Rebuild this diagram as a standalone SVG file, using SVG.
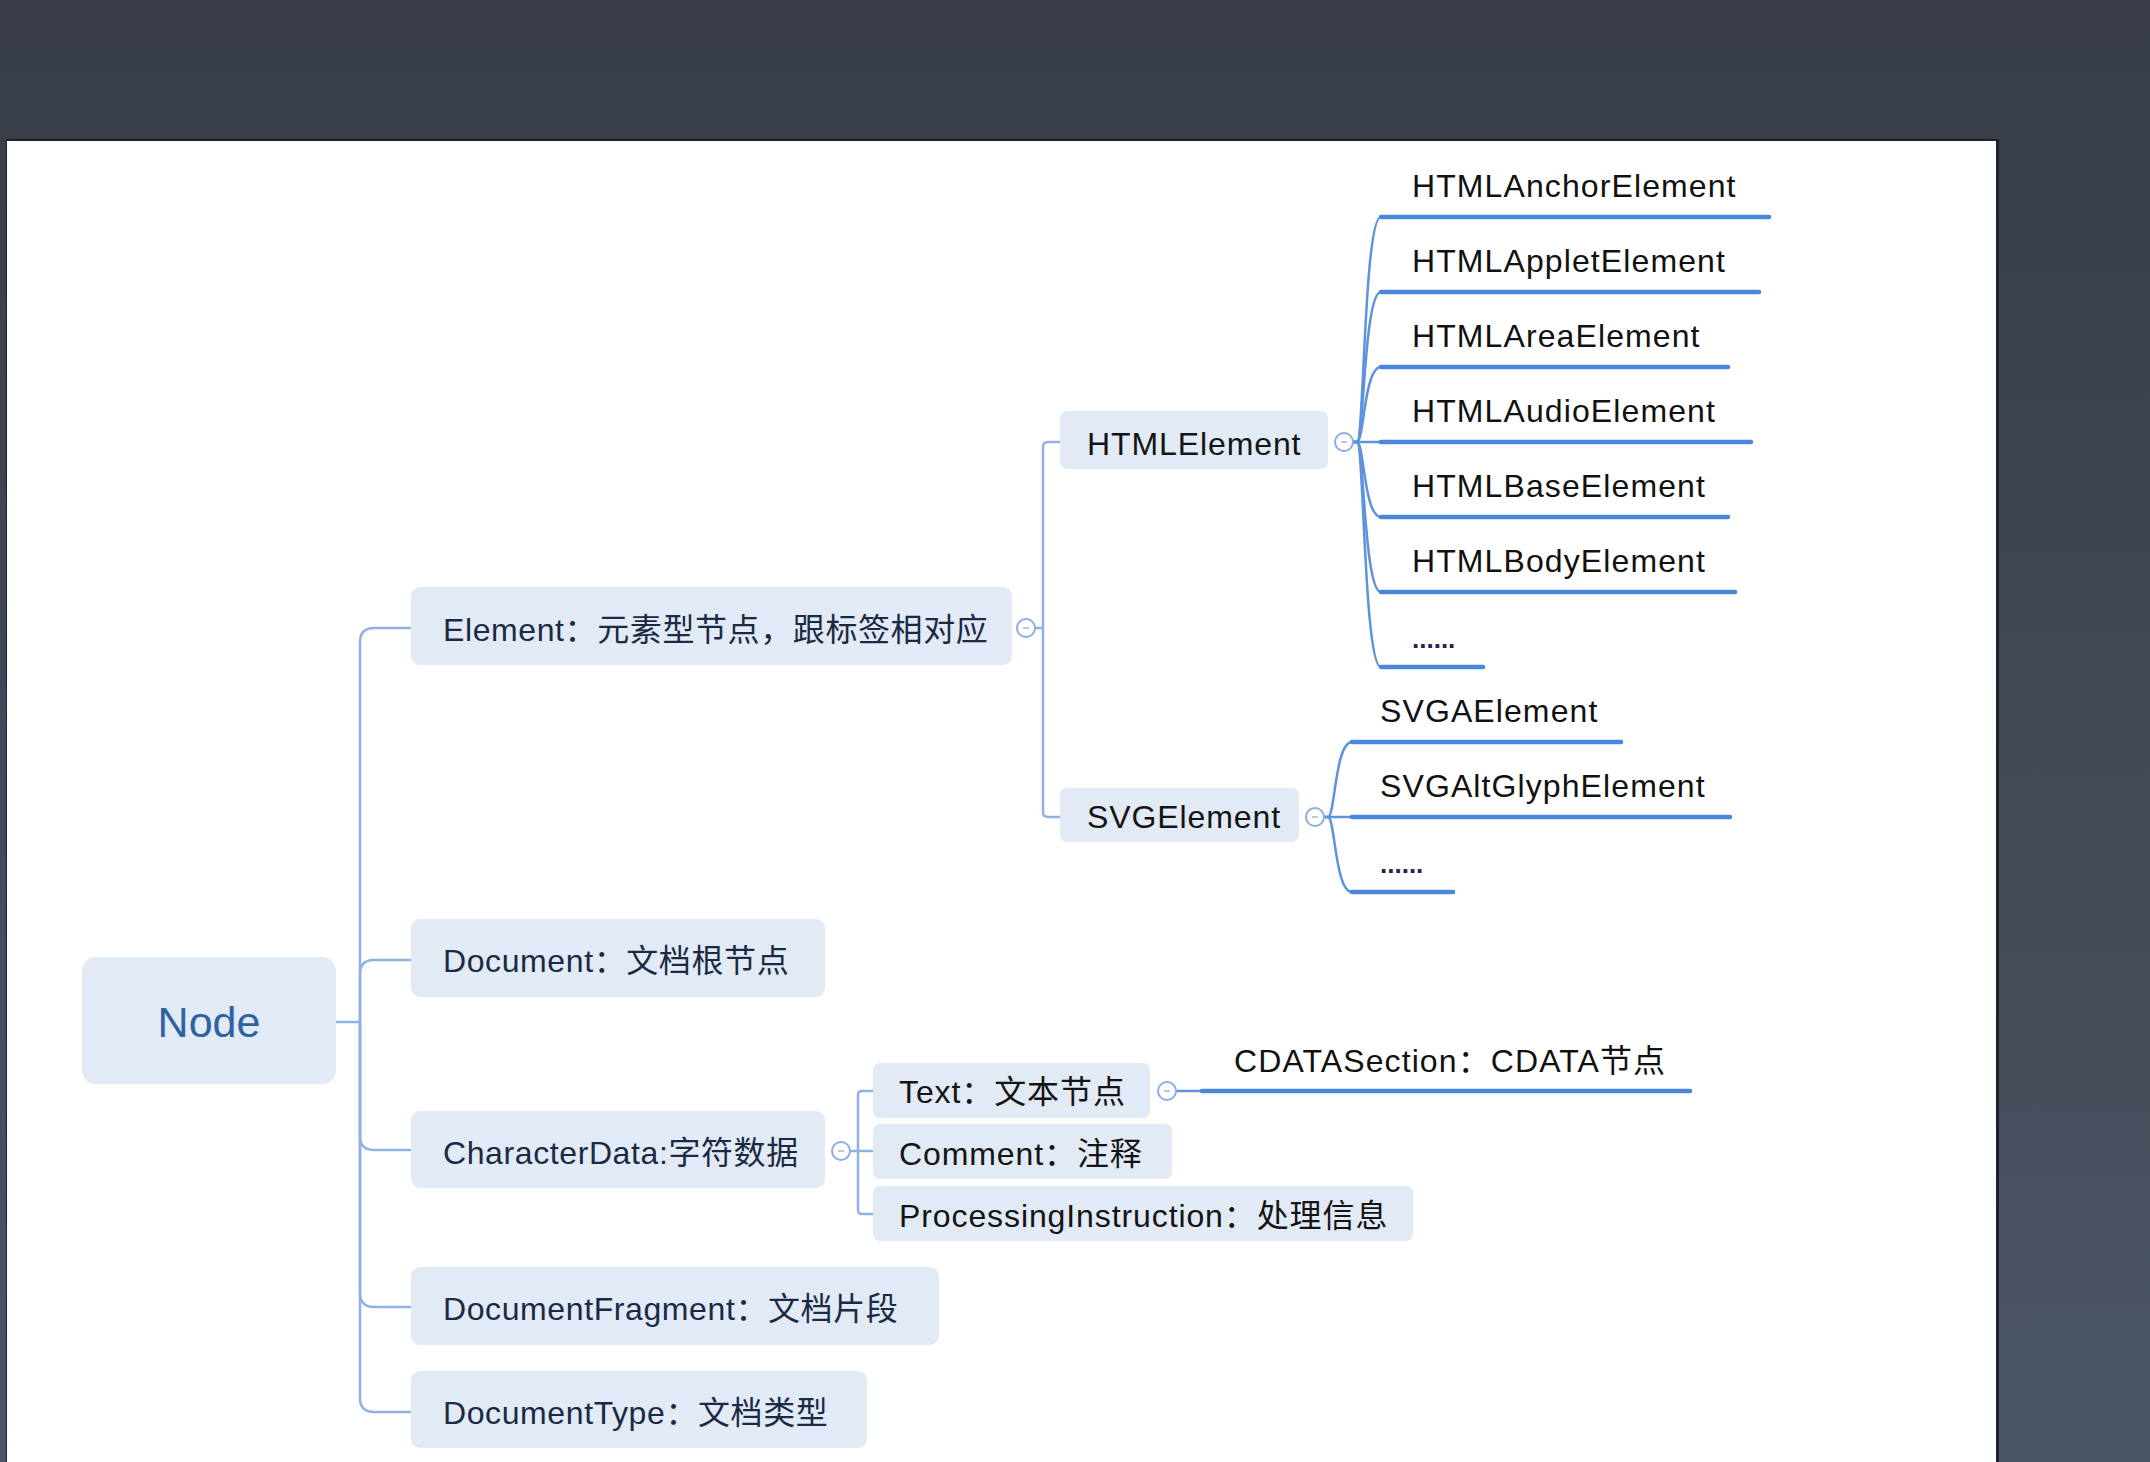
<svg xmlns="http://www.w3.org/2000/svg" width="2150" height="1462" viewBox="0 0 2150 1462">
  <defs>
    <linearGradient id="bg" x1="0" y1="0" x2="0" y2="1">
      <stop offset="0" stop-color="#373c47"/>
      <stop offset="1" stop-color="#4c5564"/>
    </linearGradient>
    <style>
      .box { fill: #e2eaf6; }
      .t1 { font-family: "Liberation Sans", "Noto Sans CJK SC", sans-serif; font-size: 32px; fill: #1b2a44; letter-spacing: 0.6px; }
      .t2 { font-family: "Liberation Sans", "Noto Sans CJK SC", sans-serif; font-size: 32px; fill: #141414; letter-spacing: 0.9px; }
      .leaf { font-family: "Liberation Sans", "Noto Sans CJK SC", sans-serif; font-size: 32px; fill: #111111; letter-spacing: 1.1px; }
      .dots { font-family: "Liberation Sans", sans-serif; font-size: 26px; font-weight: bold; fill: #22224a; }
      .conn { fill: none; stroke: #8fb1e3; stroke-width: 2.5; }
      .curve { fill: none; stroke: #5d93dd; stroke-width: 2.5; }
      .uline { fill: none; stroke: #4a87db; stroke-width: 4.5; stroke-linecap: round; }
      .knob { fill: #ffffff; stroke: #8aaee6; stroke-width: 2; }
      .knobdash { stroke: #a3b6d0; stroke-width: 1.5; }
    </style>
  </defs>

  <rect x="0" y="0" width="2150" height="1462" fill="url(#bg)"/>
  <rect x="6" y="139" width="1993" height="1323" fill="#1c212b"/>
  <rect x="7" y="141" width="1989" height="1321" fill="#ffffff"/>

  <g id="connectors">
    <!-- Node to level 1 -->
    <path class="conn" d="M 336 1022 H 360"/>
    <path class="conn" d="M 360 1022 V 642 Q 360 628 374 628 H 411"/>
    <path class="conn" d="M 360 1022 V 974 Q 360 960 374 960 H 411"/>
    <path class="conn" d="M 360 1022 V 1136 Q 360 1150 374 1150 H 411"/>
    <path class="conn" d="M 360 1022 V 1293 Q 360 1307 374 1307 H 411"/>
    <path class="conn" d="M 360 1022 V 1398 Q 360 1412 374 1412 H 411"/>
    <!-- Element to HTMLElement / SVGElement -->
    <path class="conn" d="M 1035 628 H 1043"/>
    <path class="conn" d="M 1043 628 V 447 Q 1043 442 1048 442 H 1060"/>
    <path class="conn" d="M 1043 628 V 812 Q 1043 817 1048 817 H 1060"/>
    <!-- HTMLElement children -->
    <path class="curve" d="M 1353 442 H 1357 C 1364 442 1364 217 1381 217"/>
    <path class="curve" d="M 1353 442 H 1357 C 1364 442 1364 292 1381 292"/>
    <path class="curve" d="M 1353 442 H 1357 C 1364 442 1364 367 1381 367"/>
    <path class="curve" d="M 1353 442 H 1381"/>
    <path class="curve" d="M 1353 442 H 1357 C 1364 442 1364 517 1381 517"/>
    <path class="curve" d="M 1353 442 H 1357 C 1364 442 1364 592 1381 592"/>
    <path class="curve" d="M 1353 442 H 1357 C 1364 442 1364 667 1381 667"/>
    <path class="uline" d="M 1381 217 H 1769"/>
    <path class="uline" d="M 1381 292 H 1759"/>
    <path class="uline" d="M 1381 367 H 1728"/>
    <path class="uline" d="M 1381 442 H 1751"/>
    <path class="uline" d="M 1381 517 H 1728"/>
    <path class="uline" d="M 1381 592 H 1735"/>
    <path class="uline" d="M 1381 667 H 1483"/>
    <!-- SVGElement children -->
    <path class="curve" d="M 1324 817 H 1328 C 1335 817 1335 742 1352 742"/>
    <path class="curve" d="M 1324 817 H 1352"/>
    <path class="curve" d="M 1324 817 H 1328 C 1335 817 1335 892 1352 892"/>
    <path class="uline" d="M 1352 742 H 1621"/>
    <path class="uline" d="M 1352 817 H 1730"/>
    <path class="uline" d="M 1352 892 H 1453"/>
    <!-- CharacterData children -->
    <path class="conn" d="M 850 1151 H 873"/>
    <path class="conn" d="M 858 1151 V 1095 Q 858 1091 862 1091 H 873"/>
    <path class="conn" d="M 858 1151 V 1210 Q 858 1214 862 1214 H 873"/>
    <!-- Text child -->
    <path class="curve" d="M 1176 1091 H 1202"/>
    <path class="uline" d="M 1202 1091 H 1690"/>
  </g>

  <g id="node-root">
    <rect class="box" x="82" y="957" width="254" height="127" rx="14"/>
    <text x="209" y="1037" text-anchor="middle" font-family="Liberation Sans, sans-serif" font-size="43" fill="#2d62a3">Node</text>
  </g>

  <g id="node-element">
    <rect class="box" x="411" y="587" width="601" height="78" rx="9"/>
    <text class="t1" x="443" y="641">Element：元素型节点，跟标签相对应</text>
    <circle class="knob" cx="1026" cy="628" r="9"/>
    <line class="knobdash" x1="1023" y1="628" x2="1029" y2="628"/>
  </g>

  <g id="node-document">
    <rect class="box" x="411" y="919" width="414" height="78" rx="9"/>
    <text class="t1" x="443" y="972">Document：文档根节点</text>
  </g>

  <g id="node-characterdata">
    <rect class="box" x="411" y="1111" width="414" height="77" rx="9"/>
    <text class="t1" x="443" y="1164">CharacterData:字符数据</text>
    <circle class="knob" cx="841" cy="1151" r="9"/>
    <line class="knobdash" x1="838" y1="1151" x2="844" y2="1151"/>
  </g>

  <g id="node-documentfragment">
    <rect class="box" x="411" y="1267" width="528" height="78" rx="9"/>
    <text class="t1" x="443" y="1320">DocumentFragment：文档片段</text>
  </g>

  <g id="node-documenttype">
    <rect class="box" x="411" y="1371" width="456" height="77" rx="9"/>
    <text class="t1" x="443" y="1424">DocumentType：文档类型</text>
  </g>

  <g id="node-htmlelement">
    <rect class="box" x="1060" y="411" width="268" height="58" rx="7"/>
    <text class="t2" x="1087" y="455">HTMLElement</text>
    <circle class="knob" cx="1344" cy="442" r="9"/>
    <line class="knobdash" x1="1341" y1="442" x2="1347" y2="442"/>
  </g>

  <g id="node-svgelement">
    <rect class="box" x="1060" y="788" width="239" height="54" rx="7"/>
    <text class="t2" x="1087" y="828">SVGElement</text>
    <circle class="knob" cx="1315" cy="817" r="9"/>
    <line class="knobdash" x1="1312" y1="817" x2="1318" y2="817"/>
  </g>

  <g id="node-text">
    <rect class="box" x="873" y="1063" width="277" height="55" rx="7"/>
    <text class="t2" x="899" y="1103">Text：文本节点</text>
    <circle class="knob" cx="1167" cy="1091" r="9"/>
    <line class="knobdash" x1="1164" y1="1091" x2="1170" y2="1091"/>
  </g>

  <g id="node-comment">
    <rect class="box" x="873" y="1124" width="299" height="55" rx="7"/>
    <text class="t2" x="899" y="1165">Comment：注释</text>
  </g>

  <g id="node-processinginstruction">
    <rect class="box" x="873" y="1186" width="540" height="55" rx="7"/>
    <text class="t2" x="899" y="1227">ProcessingInstruction：处理信息</text>
  </g>

  <g id="node-cdatasection">
    <text class="leaf" x="1234" y="1072">CDATASection：CDATA节点</text>
  </g>

  <g id="node-htmlanchor"><text class="leaf" x="1412" y="197">HTMLAnchorElement</text></g>
  <g id="node-htmlapplet"><text class="leaf" x="1412" y="272">HTMLAppletElement</text></g>
  <g id="node-htmlarea"><text class="leaf" x="1412" y="347">HTMLAreaElement</text></g>
  <g id="node-htmlaudio"><text class="leaf" x="1412" y="422">HTMLAudioElement</text></g>
  <g id="node-htmlbase"><text class="leaf" x="1412" y="497">HTMLBaseElement</text></g>
  <g id="node-htmlbody"><text class="leaf" x="1412" y="572">HTMLBodyElement</text></g>
  <g id="node-htmlmore"><text class="dots" x="1412" y="648">......</text></g>

  <g id="node-svga"><text class="leaf" x="1380" y="722">SVGAElement</text></g>
  <g id="node-svgaltglyph"><text class="leaf" x="1380" y="797">SVGAltGlyphElement</text></g>
  <g id="node-svgmore"><text class="dots" x="1380" y="873">......</text></g>
</svg>
